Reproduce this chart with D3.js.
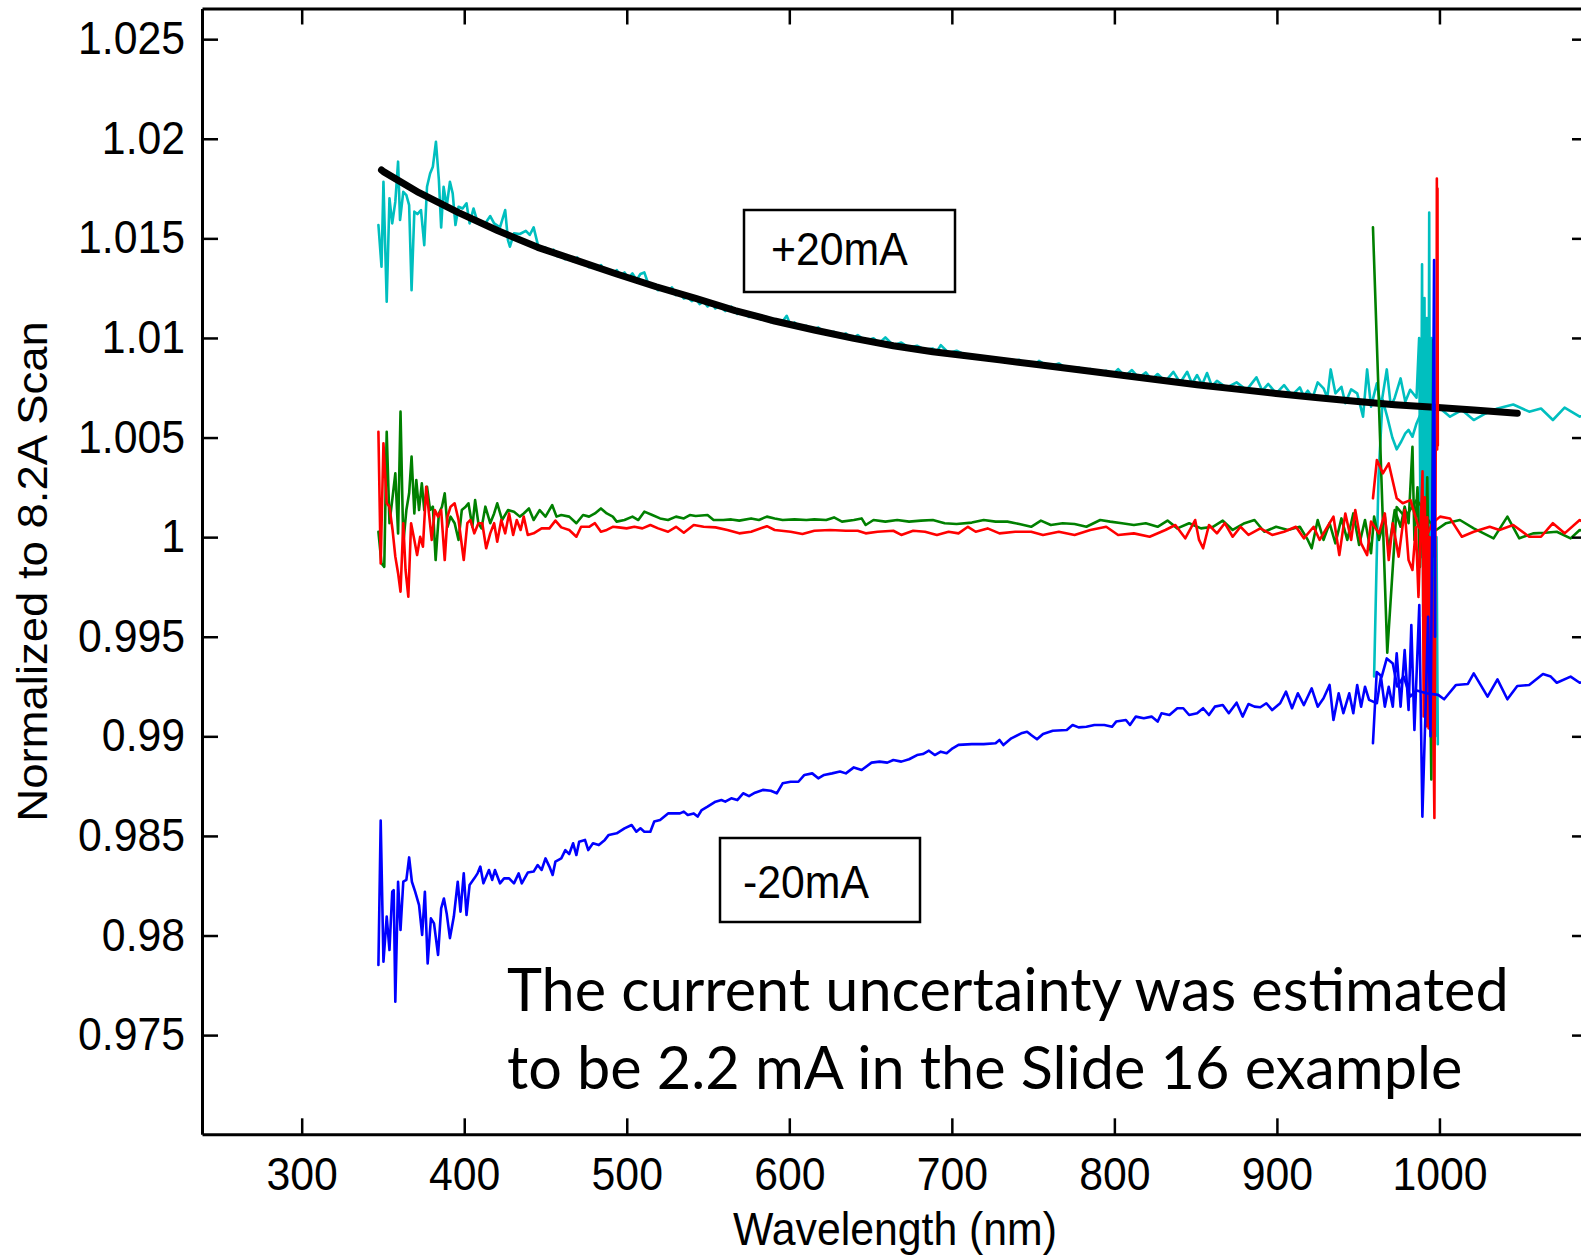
<!DOCTYPE html>
<html>
<head>
<meta charset="utf-8">
<script src="https://cdn.jsdelivr.net/npm/d3@7"></script>
<style>
  body { margin: 0; background: #fff; }
  svg { display: block; }
  text { font-family: "Liberation Sans", Arial, sans-serif; fill: #000; }
</style>
</head>
<body>
<svg id="chart" width="1581" height="1256"></svg>
<script>
// ---- data (wavelength nm, ratio to 8.2A scan) ----
const xTicks = [300, 400, 500, 600, 700, 800, 900, 1000];
const yTicks = [0.975, 0.98, 0.985, 0.99, 0.995, 1, 1.005, 1.01, 1.015, 1.02, 1.025];
const yTickLabels = ["0.975", "0.98", "0.985", "0.99", "0.995", "1", "1.005", "1.01", "1.015", "1.02", "1.025"];

// +20mA ratio, visible detector
const cyanVis = [[347.2,1.01567],[349.1,1.01358],[350.3,1.01784],[352.3,1.01182],[354.0,1.01701],[355.7,1.01575],[357.6,1.01684],[359.3,1.01885],[360.5,1.01592],[362.5,1.01734],[364.4,1.01717],[366.1,1.01667],[367.6,1.0124],[369.3,1.01634],[371.2,1.01622],[373.4,1.01642],[375.4,1.01466],[377.1,1.01759],[379.0,1.01826],[380.7,1.0186],[382.6,1.01985],[384.4,1.01793],[385.8,1.01555],[387.3,1.01759],[389.2,1.01659],[391.2,1.01784],[392.9,1.01726],[394.6,1.01567],[396.5,1.01659],[399.0,1.0165],[401.4,1.01676],[403.3,1.01575],[405.7,1.0165],[407.5,1.016],[409.9,1.01584],[412.3,1.01567],[416.0,1.01612],[418.4,1.01575],[422.0,1.01555],[425.2,1.01642],[426.9,1.01491],[428.1,1.01458],[430.6,1.01525],[434.2,1.01522],[437.9,1.01538],[440.3,1.01517],[442.7,1.01555],
  [445.2,1.01471],[447.6,1.01445],[450.0,1.01454],[452.5,1.0143],[454.9,1.01443],[457.3,1.0141],[459.7,1.01416],[462.1,1.01395],[464.6,1.01409],[467.0,1.01385],[469.5,1.01404],[471.9,1.01372],[474.3,1.01382],[476.7,1.01355],[479.2,1.01366],[481.6,1.01345],[484.1,1.01366],[486.5,1.01335],[488.9,1.01342],[491.3,1.01318],[493.8,1.01341],[496.2,1.01312],[498.6,1.01329],[501.0,1.013],[503.5,1.01324],[506.0,1.0129],[508.4,1.01321],[510.8,1.01329],[513.2,1.01272],[515.7,1.01265],[519.3,1.0124],[523.0,1.01249],[525.4,1.01232],[527.8,1.01254],[530.2,1.01215],[532.7,1.01225],[535.1,1.01198],[537.5,1.01203],[540.0,1.01185],[542.4,1.01198],[544.8,1.0117],[547.3,1.01182],[549.7,1.01158],[552.1,1.01178],[554.5,1.01148],[557.0,1.01162],[560.6,1.01135],[564.3,1.01157],[568.0,1.0112],[571.6,1.01131],[575.2,1.01105],[578.9,1.0112],[582.5,1.01092],[586.2,1.01105],[588.6,1.0108],[591.0,1.01095],[594.7,1.0107],[598.4,1.01111],[600.8,1.01062],[603.2,1.01078],[606.8,1.0105],[610.5,1.01061],[614.1,1.0104],[617.8,1.01053],[622.6,1.01022],[627.5,1.01031],[631.1,1.01008],[634.8,1.01023],[638.4,1.00995],[642.1,1.01014],[647.0,1.00985],[651.8,1.00998],[655.4,1.00975],[659.1,1.01003],[664.0,1.00962],[668.9,1.00977],[673.7,1.00952],[678.6,1.00961],[683.4,1.0094],[688.3,1.00947],[690.7,1.0093],[693.2,1.00964],[698.0,1.00925],[702.9,1.00936],[710.0,1.00908],[717.2,1.00906],[723.2,1.00888],[729.3,1.00897],[735.4,1.00878],[741.5,1.0089],[744.5,1.0087],[747.6,1.0088],[750.6,1.00862],[753.6,1.00885],[759.7,1.00855],[765.8,1.00872],[771.9,1.0084],[778.0,1.00852],[781.6,1.00832],[785.2,1.00844],[790.1,1.00825],[795.0,1.00835],[798.6,1.00812],[802.3,1.00844],[806.5,1.00808],[810.8,1.00839],[815.0,1.008],[819.3,1.00827],[823.0,1.0079],[826.6,1.00819],[831.4,1.00782],[836.3,1.0083],[840.5,1.00775],[844.8,1.0083],[847.8,1.0077],[850.9,1.00814],[854.0,1.00765],[857.0,1.00824],[860.0,1.00758],[863.1,1.00785],[869.1,1.0075],[875.2,1.00777],[881.3,1.00738],[887.4,1.00802],[891.0,1.00735],[894.7,1.00769],[899.5,1.00722],[904.4,1.00763],[909.2,1.00712],[914.1,1.00752],[916.5,1.00708],[919.0,1.00735],[922.0,1.007],[925.1,1.00777],[928.7,1.00747],[931.0,1.007],
  [933.1,1.00842],[936.0,1.00722],[939.7,1.00755],[942.1,1.00672],[945.7,1.00742],[949.4,1.00722],[953.0,1.00605],[955.5,1.00842],[957.9,1.00655],[961.5,1.00772],[964.0,1.00655],[967.6,1.00842],[970.1,1.00655],[972.5,1.007],[976.1,1.00797],[979.0,1.0068],[982.0,1.0074],[985.9,1.007],[987.5,1.01],[988.5,0.999],[989.3,1.0137],[990.0,0.996],[990.8,1.012],[991.5,0.994],[992.3,1.011],[993.0,0.993],[993.7,1.0163],[994.4,0.992],[995.2,1.01],[995.9,0.991],[996.7,1.005],[997.4,0.99],[998.2,1.0],[999.0,0.9896]];
// +20mA ratio, NIR detector
const cyanNir = [[959.8,0.993],[962.5,1.003],[965.0,1.0069],[968.0,1.006],[971.0,1.005],[973.7,1.00441],[976.5,1.0048],[979.0,1.00521],[981.0,1.00538],[983.4,1.00504],[985.9,1.00571],[988.5,1.0062],[991.0,1.0065],[994.0,1.0066],[997.0,1.00655],[999.2,1.00655],[1006.5,1.00605],[1013.8,1.00638],[1021.1,1.00588],[1028.4,1.00621],[1035.7,1.00646],[1045.4,1.00666],[1055.2,1.0063],[1062.5,1.00646],[1069.8,1.00588],[1077.0,1.0065],[1086.3,1.00605],[1094.0,1.0063]];
// fit to +20mA ratio
const fitCurve = [[349.1,1.01843],[350.3,1.01835],[372.2,1.01729],[396.5,1.01629],[420.8,1.01538],[445.2,1.01455],[469.5,1.01388],[493.8,1.01321],[518.1,1.01257],[542.4,1.01199],[566.7,1.01137],[591.0,1.01085],[615.4,1.0104],[639.7,1.00998],[664.0,1.00961],[688.3,1.00931],[705.0,1.00914],[729.3,1.0089],[753.6,1.00865],[778.0,1.0084],[802.3,1.00815],[826.6,1.0079],[850.9,1.00765],[875.2,1.00743],[899.5,1.00721],[923.9,1.00701],[948.2,1.00682],[972.5,1.00665],[996.8,1.00652],[1021.1,1.00638],[1047.9,1.00622]];

const greenVis = [[347.2,1.00027],[349.1,0.99868],[350.8,0.99851],[352.3,1.00529],[354.0,1.0007],[355.7,1.00186],[357.6,1.0032],[359.3,1.00019],[360.8,1.0063],[362.5,0.99969],[364.4,1.00136],[366.1,1.0022],[367.6,1.00404],[369.3,1.00119],[370.5,1.00287],[372.2,1.00136],[373.9,1.0027],[375.4,1.00136],[377.1,1.00253],[379.0,1.00136],[380.7,1.00153],[382.4,0.99885],[384.4,1.00119],[386.3,1.00153],[388.0,1.0022],[389.7,1.00052],[391.6,1.00103],[394.1,1.0007],[396.5,0.99986],[398.5,1.00136],[400.9,1.00153],[402.6,1.0017],[405.0,1.00052],[406.7,1.00186],[408.7,1.0007],[410.6,1.00044],[413.0,1.00153],[416.0,1.0007],[418.4,1.00119],[420.3,1.0017],[423.3,1.00086],[426.9,1.00136],[430.6,1.00128],[434.2,1.00103],[436.6,1.00119],[439.8,1.00144],[442.7,1.00086],[446.4,1.00136],[450.0,1.00103],[454.1,1.00161],[456.8,1.00103],[459.7,1.00111],[464.6,1.00103],[469.0,1.0007],[473.1,1.00111],[476.8,1.00103],[480.4,1.00119],[484.1,1.00144],[487.7,1.00119],[491.4,1.00103],[493.8,1.00078],[498.6,1.00086],[503.5,1.00103],[507.1,1.00086],[510.8,1.00128],[515.7,1.00111],[520.5,1.00094],[525.4,1.00086],[530.3,1.00103],[535.1,1.00094],[538.8,1.00111],[542.4,1.00106],[549.7,1.00111],[553.4,1.00086],[559.4,1.00086],[564.3,1.00089],[569.2,1.00083],[576.5,1.00094],[581.3,1.00086],[586.2,1.00103],[591.0,1.00094],[595.9,1.00086],[603.2,1.00089],[610.5,1.00086],[615.4,1.00089],[622.7,1.00086],[627.5,1.00099],[632.4,1.00078],[639.7,1.00086],[644.5,1.00094],[647.0,1.00061],[651.8,1.00086],[659.1,1.00078],[666.4,1.00086],[673.7,1.00078],[681.0,1.00083],[688.3,1.00086],[695.6,1.0007],[702.9,1.00066],[712.3,1.00073],[719.6,1.00086],[726.9,1.00078],[734.2,1.00078],[741.5,1.00066],[748.8,1.00052],[754.8,1.00083],[760.9,1.00061],[768.2,1.0007],[775.5,1.00066],[782.8,1.00052],[791.3,1.00086],[797.4,1.00078],[804.7,1.0007],[812.0,1.00061],[819.3,1.0007],[826.6,1.00052],[832.7,1.00083],[838.7,1.00044],[846.0,1.0007],[853.3,1.00044],[860.6,1.00052],[866.7,1.00083],[872.8,1.00036],[880.1,1.0007],[886.2,1.00086],[892.2,1.00027],[899.5,1.00052],[906.8,1.00036],[914.1,1.00052],[919.0,0.99986],[921.4,0.99944],[925.1,1.00086],[928.7,0.99986],[932.4,1.0007],[936.0,0.99969],[939.7,1.00094],[943.3,0.99986],[947.0,1.00119],[950.6,0.99961],[954.2,1.00086],[957.9,0.99919],[959.8,1.00103],[962.8,0.99986],[966.4,1.00103],[968.8,0.99936],[972.5,1.00136],[976.1,1.00052],[978.6,1.00153],[981.0,1.0007],[983.4,1.00454],[984.6,0.99986],[986.5,1.0025],[988.0,0.9985],[989.5,1.002],[991.0,0.997],[992.5,1.003],[994.0,0.995],[995.0,0.98783],[996.2,1.00991],[997.2,0.999]];
const greenNir = [[959.1,1.01555],[967.9,0.9942],[973.7,1.00151],[979.0,1.001],[985.9,1.00186],[989.5,1.0015],[993.1,1.00086],[998.0,1.00036],[1004.1,1.0007],[1012.6,1.00086],[1021.1,1.00044],[1033.3,0.99994],[1041.8,1.00103],[1049.1,0.99994],[1057.6,1.00019],[1064.9,1.00022],[1072.2,1.00027],[1080.7,0.99994],[1086.3,1.00036],[1094.0,1.0002]];

const redVis = [[347.2,1.00529],[348.6,0.99868],[350.3,1.00471],[352.3,1.0017],[354.0,1.00153],[355.9,1.00036],[357.6,0.99902],[359.3,0.99819],[360.8,0.99726],[362.5,1.0007],[363.9,0.99835],[365.6,0.99701],[367.3,1.0007],[369.3,0.99986],[371.0,0.9991],[372.9,1.00002],[374.6,0.99952],[376.6,1.00253],[378.3,1.00119],[380.0,0.99986],[381.9,1.00136],[383.9,1.00103],[385.8,1.00136],[388.0,0.99885],[389.7,1.00103],[391.6,1.00153],[394.1,1.0017],[396.5,1.00086],[399.7,0.99885],[401.9,1.0007],[403.8,1.00086],[406.2,1.00019],[408.7,1.0007],[411.1,1.0007],[413.5,0.99944],[416.0,1.00019],[418.4,1.0007],[420.3,0.99977],[422.8,1.00086],[425.2,1.00019],[427.6,1.00119],[430.1,1.00011],[432.3,1.00086],[434.7,1.00036],[436.6,1.00103],[439.1,1.00011],[442.7,1.00019],[447.6,1.00044],[452.4,1.00044],[456.1,1.00083],[459.7,1.00049],[464.6,1.00036],[469.0,1.00002],[471.9,1.00052],[476.8,1.00052],[480.4,1.0007],[484.1,1.00027],[487.7,1.00036],[491.4,1.00052],[495.0,1.00049],[499.9,1.00044],[504.7,1.00052],[509.6,1.00044],[514.5,1.00061],[519.3,1.00044],[525.4,1.00027],[530.3,1.00052],[535.1,1.00022],[541.2,1.00061],[547.3,1.00052],[554.6,1.00049],[561.9,1.00036],[569.2,1.00019],[576.5,1.00027],[586.2,1.00055],[591.0,1.00036],[600.8,1.00027],[608.1,1.00016],[615.4,1.00032],[625.1,1.00036],[634.8,1.00032],[642.1,1.00032],[647.0,1.00019],[654.3,1.00027],[664.0,1.00032],[668.9,1.00011],[676.2,1.00032],[683.5,1.00027],[690.8,1.00011],[698.0,1.00027],[704.1,1.00019],[709.9,1.00052],[714.7,1.00027],[722.0,1.00044],[729.3,1.00019],[739.0,1.00027],[748.8,1.00027],[756.1,1.00011],[765.8,1.00027],[775.5,1.00011],[785.2,1.00036],[795.0,1.00052],[802.3,1.00011],[812.0,1.00019],[821.7,1.00002],[831.4,1.00036],[837.5,1.00061],[843.6,0.99994],[849.7,1.00086],[852.1,0.99986],[854.6,0.99944],[858.2,1.00061],[863.1,1.00019],[867.9,1.0007],[872.8,1.00002],[877.6,1.00052],[882.5,1.00011],[889.8,1.00044],[897.1,1.00011],[904.4,1.00027],[911.7,1.00052],[916.6,0.99994],[922.6,1.00052],[926.3,0.99986],[931.1,1.00052],[934.8,1.00103],[938.4,0.9991],[942.1,1.00119],[945.7,0.99986],[948.2,1.00136],[951.8,0.99969],[955.5,0.9991],[957.9,1.00078],[962.8,1.00019],[966.4,1.00119],[968.8,0.99885],[971.3,1.0007],[974.9,0.99902],[978.6,1.00136],[981.0,0.99885],[983.4,0.99835],[985.5,1.0005],[987.1,0.997],[989.6,1.0033],[990.3,0.991],[991.0,1.002],[991.8,0.9905],[992.5,1.001],[993.3,0.9904],[994.0,1.0],[994.8,0.9903],[995.5,0.998],[996.2,0.991],[996.9,0.9859],[997.7,1.0044],[998.2,1.0044],[998.4,1.018],[998.6,1.0044],[998.8,1.0175],[999.0,1.0046]];
const redNir = [[959.1,1.00195],[961.5,1.00387],[965.2,1.0032],[968.8,1.0037],[973.7,1.00195],[977.4,1.0017],[982.2,1.00186],[987.1,1.00052],[991.9,1.00002],[995.6,1.0007],[1000.4,1.00103],[1006.5,1.00094],[1013.8,1.00002],[1021.1,1.00027],[1030.9,1.00052],[1036.9,1.00036],[1045.4,1.00061],[1055.2,1.00002],[1062.5,1.00002],[1069.8,1.0007],[1077.0,1.00019],[1086.3,1.00086],[1094.0,1.0005]];

// -20mA ratio
const blueVis = [[347.2,0.97852],[348.6,0.98577],[350.3,0.97869],[352.3,0.98095],[354.0,0.97927],[355.7,0.9822],[356.6,0.98228],[357.6,0.97668],[359.3,0.9827],[360.8,0.98028],[362.5,0.9827],[364.4,0.98279],[366.1,0.98392],[367.8,0.9827],[369.8,0.9822],[372.2,0.98153],[374.1,0.98003],[375.8,0.9822],[377.5,0.9786],[379.5,0.98086],[381.4,0.98061],[383.9,0.97902],[385.8,0.98136],[387.5,0.98186],[389.2,0.98111],[391.2,0.97987],[393.6,0.98095],[396.0,0.9827],[397.7,0.9812],[399.7,0.98312],[401.4,0.98103],[403.3,0.98254],[406.2,0.98287],[408.2,0.98312],[409.9,0.98346],[411.8,0.98262],[415.2,0.98329],[417.2,0.98279],[418.9,0.98329],[422.0,0.98262],[424.5,0.98287],[427.6,0.98287],[430.6,0.98262],[433.5,0.98312],[435.4,0.98262],[439.1,0.98316],[442.7,0.98321],[445.2,0.98354],[447.6,0.98329],[450.0,0.98387],[452.4,0.98346],[454.4,0.98304],[456.1,0.98371],[459.7,0.98387],[462.2,0.98429],[464.6,0.98409],[467.0,0.98463],[469.0,0.98404],[470.7,0.98471],[474.3,0.9848],[476.3,0.98429],[479.2,0.98463],[482.8,0.98454],[486.5,0.9848],[488.9,0.98505],[493.8,0.98513],[498.6,0.98538],[503.0,0.98555],[505.9,0.98521],[508.4,0.98538],[510.8,0.98521],[514.5,0.98521],[516.9,0.98572],[520.5,0.9858],[525.4,0.98613],[529.0,0.98613],[532.7,0.98613],[535.1,0.98622],[537.5,0.98605],[541.2,0.98613],[543.6,0.98597],[546.1,0.9863],[549.7,0.98647],[554.6,0.98672],[558.2,0.9868],[560.6,0.98672],[564.3,0.98689],[568.0,0.9868],[571.6,0.98714],[575.2,0.987],[578.9,0.98717],[583.7,0.98731],[588.6,0.98727],[592.3,0.98714],[595.9,0.98764],[600.8,0.98772],[605.6,0.98772],[609.3,0.98806],[614.1,0.98814],[617.8,0.98789],[621.4,0.98806],[626.3,0.98814],[631.2,0.98823],[634.8,0.98814],[639.7,0.98844],[644.5,0.98831],[650.6,0.98868],[655.5,0.98873],[660.3,0.98868],[664.0,0.98881],[668.9,0.98873],[673.7,0.98885],[678.6,0.98906],[682.2,0.98911],[685.9,0.98928],[689.5,0.98906],[693.2,0.98923],[696.8,0.98915],[700.5,0.9894],[704.1,0.98957],[712.3,0.98961],[719.6,0.98961],[726.9,0.98965],[729.3,0.98982],[731.7,0.98956],[736.6,0.9899],[742.7,0.99015],[746.3,0.99023],[748.8,0.99007],[752.4,0.98985],[756.1,0.99012],[762.1,0.99028],[770.7,0.99032],[774.3,0.99057],[778.0,0.99045],[782.8,0.99048],[787.7,0.99057],[793.8,0.99057],[798.6,0.99048],[801.1,0.99074],[807.1,0.99082],[809.6,0.99057],[813.2,0.99099],[818.1,0.99091],[822.9,0.99099],[826.6,0.99074],[829.0,0.99116],[833.9,0.99107],[838.7,0.99141],[842.4,0.99141],[846.0,0.99107],[850.9,0.99116],[854.6,0.99141],[858.2,0.99107],[861.8,0.99149],[866.7,0.99157],[870.4,0.99116],[875.2,0.99169],[878.9,0.99099],[882.5,0.99162],[886.2,0.99149],[889.8,0.99146],[893.5,0.99166],[897.1,0.99132],[902.0,0.99166],[905.6,0.99224],[909.3,0.99141],[912.9,0.99216],[916.6,0.99157],[921.4,0.99241],[925.1,0.99149],[928.7,0.99191],[932.4,0.99258],[934.8,0.99082],[938.0,0.99216],[940.9,0.99116],[944.5,0.99216],[947.0,0.99116],[949.4,0.99258],[951.8,0.99149],[954.2,0.99249],[956.7,0.99183],[961.5,0.99166],[964.0,0.993],[966.4,0.99149],[968.8,0.99249],[971.3,0.99149],[973.7,0.99417],[976.1,0.99149],[978.6,0.99433],[981.0,0.99132],[982.7,0.99559],[984.6,0.99032],[987.6,0.99659],[989.5,0.98597],[991.5,0.99149],[993.0,0.996],[994.5,0.99],[996.0,1.005],[996.7,1.01391],[997.3,0.995]];
const blueNir = [[959.1,0.98965],[961.4,0.99323],[964.5,0.993],[967.6,0.99391],[971.3,0.99366],[974.0,0.9925],[978.0,0.993],[982.0,0.992],[986.0,0.9923],[992.0,0.99216],[999.2,0.99208],[1002.9,0.99186],[1010.2,0.99258],[1017.5,0.99263],[1021.1,0.99316],[1029.6,0.99199],[1035.7,0.99286],[1041.8,0.99186],[1047.9,0.99253],[1055.2,0.99258],[1063.7,0.99313],[1068.5,0.993],[1072.2,0.99269],[1080.7,0.993],[1086.3,0.99269],[1094.0,0.9929]];

// ---- setup ----
const svg = d3.select("#chart");
const plot = { left: 202, right: 1588, top: 8.5, bottom: 1134.3 };
const squash = "scale(0.94,1)"; // source text is a little narrow

const x = d3.scaleLinear().domain([238.66, 1091.4]).range([plot.left, plot.right]);
const y = d3.scaleLinear().domain([0.97002, 1.02654]).range([plot.bottom, plot.top]);

svg.append("rect").attr("width", 1581).attr("height", 1256).attr("fill", "#fff");

svg.append("defs").append("clipPath").attr("id", "plot-clip")
  .append("rect")
  .attr("x", plot.left).attr("y", plot.top)
  .attr("width", plot.right - plot.left).attr("height", plot.bottom - plot.top);

// ---- series ----
const line = d3.line().x((d) => x(d[0])).y((d) => y(d[1]));
const lines = svg.append("g").attr("clip-path", "url(#plot-clip)")
  .attr("fill", "none").attr("stroke-linejoin", "round").attr("stroke-linecap", "round");

const series = [
  { data: cyanVis, color: "#00bfbf", width: 2.6 },
  { data: cyanNir, color: "#00bfbf", width: 2.6 },
  { data: fitCurve, color: "#000", width: 7 },
  { data: greenVis, color: "#008000", width: 2.6 },
  { data: greenNir, color: "#008000", width: 2.6 },
  { data: redVis, color: "#ff0000", width: 2.6 },
  { data: redNir, color: "#ff0000", width: 2.6 },
  { data: blueVis, color: "#0000ff", width: 2.6 },
  { data: blueNir, color: "#0000ff", width: 2.6 }
];

series.forEach((s) => {
  lines.append("path")
    .attr("d", line(s.data))
    .attr("stroke", s.color)
    .attr("stroke-width", s.width);
});

// ---- axes (MATLAB style inward ticks, box) ----
function styleAxis(g) {
  g.attr("font-family", null).attr("font-size", null);
  g.select(".domain").attr("stroke", "#000").attr("stroke-width", 3);
  g.selectAll(".tick line").attr("stroke", "#000").attr("stroke-width", 2.5);
  g.selectAll(".tick text").attr("font-size", 45.5).attr("transform", squash);
}

svg.append("g")
  .attr("transform", `translate(0,${plot.bottom})`)
  .call(d3.axisBottom(x).tickValues(xTicks).tickSize(-16).tickSizeOuter(0).tickPadding(23)
    .tickFormat(d3.format("d")))
  .call(styleAxis);

svg.append("g")
  .attr("transform", `translate(0,${plot.top})`)
  .call(d3.axisTop(x).tickValues(xTicks).tickSize(-16).tickSizeOuter(0).tickFormat(""))
  .call(styleAxis);

svg.append("g")
  .attr("transform", `translate(${plot.left},0)`)
  .call(d3.axisLeft(y).tickValues(yTicks).tickSize(-16).tickSizeOuter(0).tickPadding(18)
    .tickFormat((d, i) => yTickLabels[i]))
  .call(styleAxis);

svg.append("g")
  .attr("transform", `translate(${plot.right},0)`)
  .call(d3.axisRight(y).tickValues(yTicks).tickSize(-16).tickSizeOuter(0).tickFormat(""))
  .call(styleAxis);

// axis titles
svg.append("text")
  .attr("transform", `translate(${(plot.left + plot.right) / 2},1245) ${squash}`)
  .attr("text-anchor", "middle")
  .attr("font-size", 45.5)
  .text("Wavelength (nm)");

svg.append("text")
  .attr("transform", `translate(47,${(plot.top + plot.bottom) / 2}) rotate(-90) scale(1,0.94)`)
  .attr("text-anchor", "middle")
  .attr("font-size", 45.5)
  .text("Normalized to 8.2A Scan");

// ---- annotation boxes ----
const notes = [
  { label: "+20mA", box: [744, 210, 211, 82], tx: 771, ty: 265 },
  { label: "-20mA", box: [720, 838, 200, 84], tx: 743, ty: 898 }
];
notes.forEach((n) => {
  svg.append("rect")
    .attr("x", n.box[0]).attr("y", n.box[1])
    .attr("width", n.box[2]).attr("height", n.box[3])
    .attr("fill", "#fff").attr("stroke", "#000").attr("stroke-width", 2.5);
  svg.append("text")
    .attr("transform", `translate(${n.tx},${n.ty}) ${squash}`)
    .attr("font-size", 45.5)
    .text(n.label);
});

// ---- slide comment ----
const comment = ["The current uncertainty was estimated", "to be 2.2 mA in the Slide 16 example"];
const commentG = svg.append("g");
const first = commentG.append("text")
  .attr("x", 507).attr("y", 1011)
  .attr("font-size", 60)
  .style("font-family", "Lato, 'Open Sans', sans-serif")
  .text(comment[0]);
const fitSize = 60 * 1002 / first.node().getComputedTextLength();
first.attr("font-size", fitSize);
commentG.append("text")
  .attr("x", 507).attr("y", 1089)
  .attr("font-size", fitSize)
  .style("font-family", "Lato, 'Open Sans', sans-serif")
  .text(comment[1]);
</script>
</body>
</html>
